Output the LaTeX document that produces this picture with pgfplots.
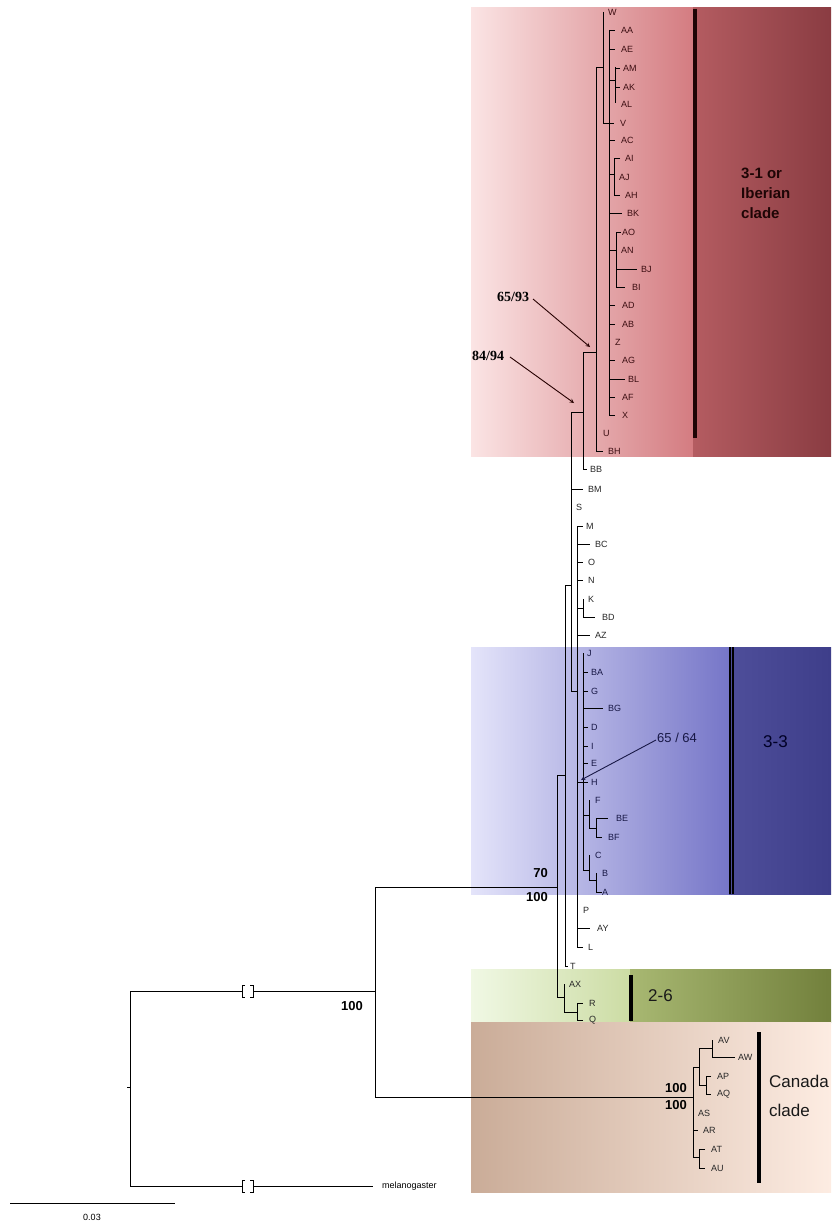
\documentclass[border=0pt]{standalone}
\usepackage{pgfplots}
\pgfplotsset{compat=1.18}
\usepackage{fontspec}
\setmainfont{Liberation Sans}
\newfontfamily\seriffont{Liberation Serif}
\definecolor{redA}{RGB}{251,228,228}
\definecolor{redB}{RGB}{212,124,129}
\definecolor{redC}{RGB}{180,92,97}
\definecolor{redD}{RGB}{138,60,66}
\definecolor{bluA}{RGB}{228,228,250}
\definecolor{bluB}{RGB}{118,118,200}
\definecolor{bluC}{RGB}{78,78,154}
\definecolor{bluD}{RGB}{62,62,138}
\definecolor{grnA}{RGB}{240,248,228}
\definecolor{grnB}{RGB}{204,220,164}
\definecolor{grnC}{RGB}{168,184,114}
\definecolor{grnD}{RGB}{114,128,60}
\definecolor{canA}{RGB}{202,172,152}
\definecolor{canB}{RGB}{253,236,226}
\definecolor{redtxt}{RGB}{60,14,18}
\definecolor{blutxt}{RGB}{24,24,70}
\definecolor{bartxt}{RGB}{30,5,5}
\begin{document}
\begin{tikzpicture}
\begin{axis}[
  width=831pt, height=1223pt, scale only axis,
  xmin=0, xmax=831, ymin=0, ymax=1223, y dir=reverse,
  axis line style={draw=none}, ticks=none, clip=false,
  unbounded coords=jump,
]
% ---- coloured clade bands
\addplot[draw=none, left color=redA, right color=redB] coordinates {(471,8) (693,8) (693,456) (471,456)};
\addplot[draw=none, left color=redC, right color=redD] coordinates {(693,8) (831,8) (831,456) (693,456)};
\addplot[draw=none, left color=bluA, right color=bluB] coordinates {(471,647) (729,647) (729,894) (471,894)};
\addplot[draw=none, left color=bluC, right color=bluD] coordinates {(729,647) (831,647) (831,894) (729,894)};
\addplot[draw=none, left color=grnA, right color=grnB] coordinates {(471,969) (630,969) (630,1022) (471,1022)};
\addplot[draw=none, left color=grnC, right color=grnD] coordinates {(630,969) (831,969) (831,1022) (630,1022)};
\addplot[draw=none, left color=canA, right color=canB] coordinates {(471,1022) (831,1022) (831,1192) (471,1192)};
% ---- clade bars
\addplot[bartxt, line width=4pt] coordinates {(695,9) (695,438)};
\addplot[black, line width=5pt] coordinates {(731,647) (731,894)};
\addplot[bluC, line width=0.8pt] coordinates {(731,647) (731,894)};
\addplot[black, line width=4.5pt] coordinates {(631,975) (631,1021)};
\addplot[black, line width=4.5pt] coordinates {(759,1032) (759,1183)};
% ---- tree branches
\addplot[black, line width=0.8pt] coordinates {
 (603,12) (603,123) (614,123) (nan,nan)
 (603,67) (596,67) (596,451) (603,451) (nan,nan)
 (583,352) (596,352) (nan,nan)
 (609,30) (609,415) (615,415) (nan,nan)
 (609,30) (615,30) (nan,nan)
 (609,49) (615,49) (nan,nan)
 (609,140) (615,140) (nan,nan)
 (609,213) (622,213) (nan,nan)
 (609,305) (615,305) (nan,nan)
 (609,324) (615,324) (nan,nan)
 (609,360) (615,360) (nan,nan)
 (609,379) (625,379) (nan,nan)
 (609,397) (615,397) (nan,nan)
 (609,80) (615,80) (nan,nan)
 (615,67) (615,103) (nan,nan)
 (615,68) (620,68) (nan,nan)
 (615,87) (620,87) (nan,nan)
 (609,174) (614,174) (nan,nan)
 (620,158) (614,158) (614,195) (620,195) (nan,nan)
 (609,250) (616,250) (nan,nan)
 (621,232) (616,232) (616,287) (625,287) (nan,nan)
 (616,269) (637,269) (nan,nan)
 (583,352) (583,469) (587,469) (nan,nan)
 (571,412) (583,412) (nan,nan)
 (571,412) (571,691) (577,691) (nan,nan)
 (571,489) (583,489) (nan,nan)
 (565,585) (571,585) (nan,nan)
 (577,526) (577,947) (583,947) (nan,nan)
 (577,526) (583,526) (nan,nan)
 (577,544) (590,544) (nan,nan)
 (577,562) (583,562) (nan,nan)
 (577,580) (583,580) (nan,nan)
 (577,608) (583,608) (nan,nan)
 (583,599) (583,617) (595,617) (nan,nan)
 (577,635) (590,635) (nan,nan)
 (577,782) (588,782) (nan,nan)
 (577,928) (590,928) (nan,nan)
 (583,653) (583,870) (nan,nan)
 (583,672) (588,672) (nan,nan)
 (583,691) (588,691) (nan,nan)
 (583,708) (603,708) (nan,nan)
 (583,727) (588,727) (nan,nan)
 (583,746) (588,746) (nan,nan)
 (583,763) (588,763) (nan,nan)
 (583,815) (589,815) (nan,nan)
 (589,800) (589,828) (596,828) (nan,nan)
 (596,818) (596,837) (602,837) (nan,nan)
 (596,818) (608,818) (nan,nan)
 (583,870) (589,870) (nan,nan)
 (589,855) (589,880) (596,880) (nan,nan)
 (596,873) (596,892) (602,892) (nan,nan)
 (565,585) (565,966) (568,966) (nan,nan)
 (557,775) (565,775) (nan,nan)
 (557,775) (557,997) (564,997) (nan,nan)
 (564,984) (564,1012) (577,1012) (nan,nan)
 (577,1003) (577,1020) (583,1020) (nan,nan)
 (577,1003) (583,1003) (nan,nan)
 (375,887) (557,887) (nan,nan)
 (375,887) (375,1097) (693,1097) (nan,nan)
 (693,1067) (693,1157) (nan,nan)
 (693,1067) (699,1067) (nan,nan)
 (699,1048) (699,1085) (nan,nan)
 (699,1048) (712,1048) (nan,nan)
 (712,1040) (712,1057) (735,1057) (nan,nan)
 (699,1085) (706,1085) (nan,nan)
 (711,1076) (706,1076) (706,1094) (711,1094) (nan,nan)
 (693,1130) (698,1130) (nan,nan)
 (693,1157) (699,1157) (nan,nan)
 (705,1149) (699,1149) (699,1168) (705,1168) (nan,nan)
 (130,991) (242,991) (nan,nan)
 (253,991) (375,991) (nan,nan)
 (242,1186) (130,1186) (130,991) (nan,nan)
 (253,1186) (373,1186) (nan,nan)
 (245,985) (242,985) (242,997) (245,997) (nan,nan)
 (250,985) (253,985) (253,997) (250,997) (nan,nan)
 (245,1180) (242,1180) (242,1192) (245,1192) (nan,nan)
 (250,1180) (253,1180) (253,1192) (250,1192) (nan,nan)
 (127,1087) (130,1087)
};
% scale bar
\addplot[black, line width=0.8pt] coordinates {(10,1203) (175,1203)};
% ---- annotation arrows
\addplot[black!75!red!60!black, line width=0.9pt, -stealth] coordinates {(533,299) (590,347)};
\addplot[black!75!red!60!black, line width=0.9pt, -stealth] coordinates {(510,357) (574,403)};
\addplot[blutxt, line width=0.9pt, -stealth] coordinates {(656,740) (581,780)};
% ---- leaf labels
\addplot[draw=none, mark=none, nodes near coords, point meta=explicit symbolic,
  nodes near coords style={anchor=west, inner sep=0pt, text=redtxt, font=\fontsize{9}{10}\selectfont}]
 table[meta=lab] {
x y lab
608 12 W
621 30 AA
621 49 AE
623 68 AM
623 87 AK
621 104 AL
620 123 V
621 140 AC
625 158 AI
619 177 AJ
625 195 AH
627 213 BK
622 232 AO
621 250 AN
641 269 BJ
632 287 BI
622 305 AD
622 324 AB
615 342 Z
622 360 AG
628 379 BL
622 397 AF
622 415 X
603 433 U
608 451 BH
};
\addplot[draw=none, mark=none, nodes near coords, point meta=explicit symbolic,
  nodes near coords style={anchor=west, inner sep=0pt, text=black!85, font=\fontsize{9}{10}\selectfont}]
 table[meta=lab] {
x y lab
590 469 BB
588 489 BM
576 507 S
586 526 M
595 544 BC
588 562 O
588 580 N
588 599 K
602 617 BD
595 635 AZ
583 910 P
597 928 AY
588 947 L
570 966 T
569 984 AX
589 1003 R
589 1020 Q
718 1040 AV
738 1057 AW
717 1076 AP
717 1094 AQ
698 1113 AS
703 1130 AR
711 1149 AT
711 1168 AU
};
\addplot[draw=none, mark=none, nodes near coords, point meta=explicit symbolic,
  nodes near coords style={anchor=west, inner sep=0pt, text=blutxt, font=\fontsize{9}{10}\selectfont}]
 table[meta=lab] {
x y lab
587 653 J
591 672 BA
591 691 G
608 708 BG
591 727 D
591 746 I
591 763 E
591 782 H
595 800 F
616 818 BE
608 837 BF
595 855 C
602 873 B
602 892 A
};
% ---- other text
\node[anchor=west, inner sep=0pt, font=\fontsize{9}{10}\selectfont] at (axis cs:382,1186) {melanogaster};
\node[inner sep=0pt, font=\fontsize{9}{10}\selectfont] at (axis cs:92,1217) {0.03};
\node[anchor=east, inner sep=0pt, font=\fontsize{13}{14}\selectfont\bfseries] at (axis cs:548,873) {70};
\node[anchor=east, inner sep=0pt, font=\fontsize{13}{14}\selectfont\bfseries] at (axis cs:548,897) {100};
\node[anchor=east, inner sep=0pt, font=\fontsize{13}{14}\selectfont\bfseries] at (axis cs:363,1006) {100};
\node[anchor=east, inner sep=0pt, font=\fontsize{13}{14}\selectfont\bfseries] at (axis cs:687,1088) {100};
\node[anchor=east, inner sep=0pt, font=\fontsize{13}{14}\selectfont\bfseries] at (axis cs:687,1105) {100};
\node[anchor=west, inner sep=0pt, font=\fontsize{14}{15}\selectfont\seriffont\bfseries] at (axis cs:497,297) {65/93};
\node[anchor=west, inner sep=0pt, font=\fontsize{14}{15}\selectfont\seriffont\bfseries] at (axis cs:472,356) {84/94};
\node[anchor=west, inner sep=0pt, text=blutxt, font=\fontsize{13}{14}\selectfont] at (axis cs:657,738) {65 / 64};
\node[anchor=north west, inner sep=0pt, align=left, text=bartxt, font=\fontsize{15}{20}\selectfont\bfseries] at (axis cs:741,168) {3-1 or\\Iberian\\clade};
\node[anchor=west, inner sep=0pt, text=black!85!blue, font=\fontsize{17}{18}\selectfont] at (axis cs:763,742) {3-3};
\node[anchor=west, inner sep=0pt, text=black!90, font=\fontsize{17}{18}\selectfont] at (axis cs:648,996) {2-6};
\node[anchor=west, inner sep=0pt, text=black!90, font=\fontsize{17}{18}\selectfont] at (axis cs:769,1081) {Canada};
\node[anchor=west, inner sep=0pt, text=black!90, font=\fontsize{17}{18}\selectfont] at (axis cs:769,1110) {clade};
\end{axis}
\end{tikzpicture}
\end{document}
